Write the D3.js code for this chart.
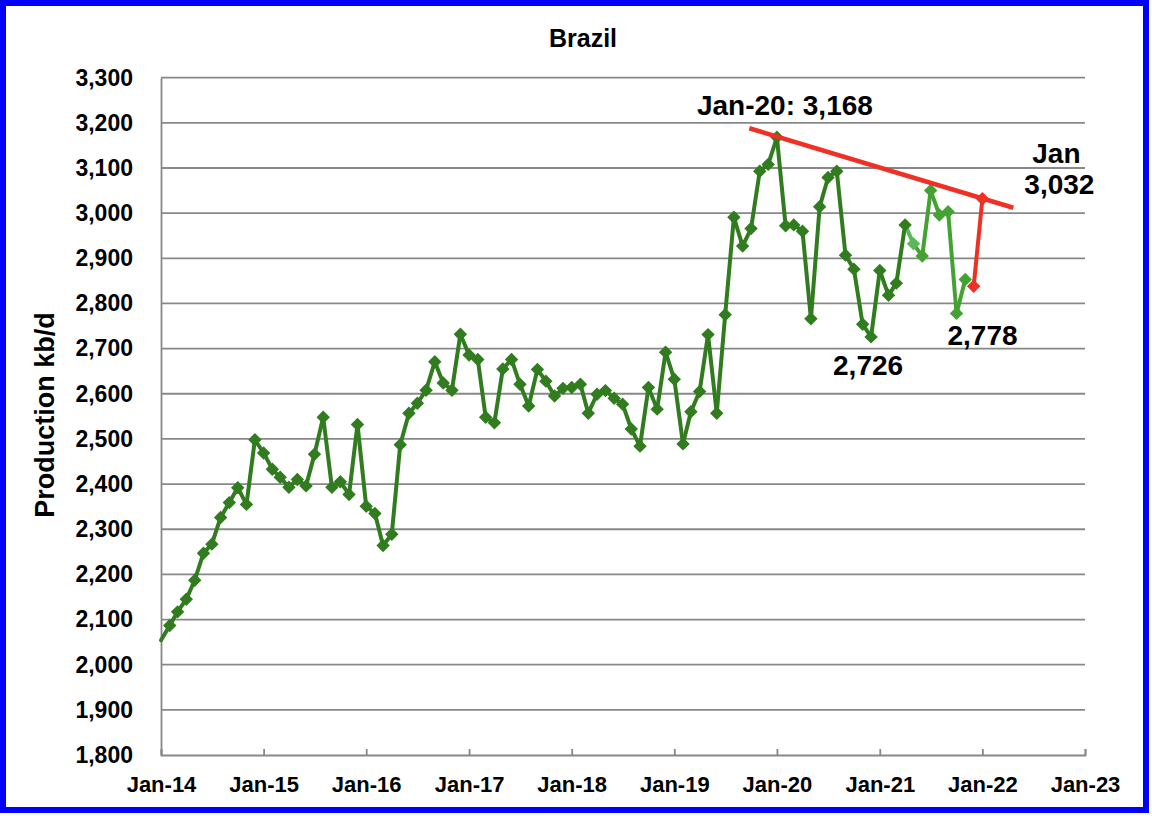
<!DOCTYPE html>
<html><head><meta charset="utf-8">
<script src="https://cdn.jsdelivr.net/npm/d3@7"></script>
<style>body{margin:0;background:#fff}svg{display:block}text{font-family:"Liberation Sans",Arial,sans-serif;font-weight:bold;fill:#000}</style>
</head><body>
<script>
// Monthly production, kb/d, Jan-2014 .. Nov-2021
const startMonth = "2014-01";
const production = [
  2054,2087,2117,2145,2187,2247,2267,2326,2359,2392,2355,2498,
  2469,2433,2415,2393,2410,2396,2466,2548,2393,2405,2377,2532,
  2351,2335,2264,2289,2487,2557,2579,2608,2671,2624,2608,2732,
  2686,2676,2548,2536,2655,2676,2621,2573,2654,2628,2595,2612,
  2614,2621,2557,2599,2607,2590,2577,2522,2484,2614,2566,2692,
  2632,2489,2560,2605,2731,2557,2775,2991,2927,2966,3093,3108,
  3168,2972,2974,2960,2766,3014,3079,3093,2907,2876,2754,2726,
  2873,2818,2845,2974,2932,2905,3050,2996,3003,2778,2853
];
// colour group of each point: 0 = older, 1 = May-21, 2 = latest
const lightFrom = "2021-05", latestFrom = "2021-06";
// red (preliminary) points
const redMonths = ["2021-12","2022-01"];
const redValues = [2838, 3032];
// trend line ends
const trendDates = ["2019-09-25","2022-04-21"];
const trendValues = [3188, 3012];
const yTicks = d3.range(1800, 3301, 100);
const xTickYears = d3.range(2014, 2024);
const annotations = [
  {date:"2020-01", value:3168, text:"Jan-20: 3,168", dx:8, dy:-30},
  {date:"2020-12", value:2726, text:"2,726", dx:-3, dy:31},
  {date:"2021-10", value:2778, text:"2,778", dx:26, dy:24},
];

const W=1152,H=816;
const parse=d3.utcParse("%Y-%m"), parseD=d3.utcParse("%Y-%m-%d");
const t0=parse(startMonth);
const data=production.map((v,i)=>({date:d3.utcMonth.offset(t0,i),value:v}));
const lf=parse(lightFrom), lt=parse(latestFrom);
data.forEach(d=>{d.g = d.date>=lt?2:(d.date>=lf?1:0);});
const colors=["#317c1f","#5bb85a","#44a232"];
const redData=redMonths.map((m,i)=>({date:parse(m),value:redValues[i]}));

const svg=d3.select("body").append("svg").attr("width",W).attr("height",H);
svg.append("rect").attr("width",W).attr("height",H).attr("fill","#fff");
svg.append("rect").attr("x",3).attr("y",3).attr("width",1143).attr("height",807)
  .attr("fill","none").attr("stroke","#0000ff").attr("stroke-width",6);

const x=d3.scaleUtc().domain([new Date(Date.UTC(2014,0,1)),new Date(Date.UTC(2023,0,1))]).range([161,1085]);
const y=d3.scaleLinear().domain([1800,3300]).range([755,77.7]);
const grey="#888888";

// gridlines
svg.append("g").selectAll("line").data(yTicks.filter(v=>v>1800)).join("line")
  .attr("x1",161).attr("x2",1085).attr("y1",d=>y(d)).attr("y2",d=>y(d))
  .attr("stroke",grey).attr("stroke-width",1.8);
// axes
const xa=svg.append("g").attr("transform","translate(0,755)")
  .call(d3.axisBottom(x).tickValues(xTickYears.map(yr=>new Date(Date.UTC(yr,0,1))))
    .tickSize(-6).tickPadding(21).tickFormat(d3.utcFormat("Jan-%y")));
xa.select(".domain").attr("stroke",grey).attr("stroke-width",1.8);
xa.selectAll(".tick line").attr("stroke",grey).attr("stroke-width",1.8);
xa.selectAll("text").attr("font-size",22).attr("font-family","Liberation Sans, Arial").attr("font-weight","bold").attr("fill","#000");
const ya=svg.append("g").attr("transform","translate(161,0)")
  .call(d3.axisLeft(y).tickValues(yTicks).tickSize(0).tickPadding(28).tickFormat(d3.format(",")));
ya.select(".domain").attr("stroke",grey).attr("stroke-width",1.8);
ya.selectAll("text").attr("font-size",23).attr("font-family","Liberation Sans, Arial").attr("font-weight","bold").attr("fill","#000");

// title and axis title
svg.append("text").attr("x",583).attr("y",47).attr("text-anchor","middle").attr("font-size",25).text("Brazil");
svg.append("text").attr("transform","translate(54,415) rotate(-90)").attr("text-anchor","middle").attr("font-size",27).text("Production kb/d");

// series line segments
const g=svg.append("g");
for(let i=1;i<data.length;i++){
  g.append("line").attr("x1",x(data[i-1].date)).attr("y1",y(data[i-1].value))
    .attr("x2",x(data[i].date)).attr("y2",y(data[i].value))
    .attr("stroke",colors[data[i].g]).attr("stroke-width",4).attr("stroke-linecap","round");
}
const diamond=d3.symbol().type(d3.symbolDiamond2).size(115);
g.selectAll("path.m").data(data.slice(1)).join("path").attr("class","m")
  .attr("d",diamond).attr("transform",d=>`translate(${x(d.date)},${y(d.value)})`)
  .attr("fill",d=>colors[d.g]);

// trend line
const td=trendDates.map((d,i)=>({date:parseD(d),value:trendValues[i]}));
svg.append("path").datum(td).attr("d",d3.line().x(d=>x(d.date)).y(d=>y(d.value)))
  .attr("stroke","#ee3124").attr("stroke-width",4.5).attr("fill","none");
// red points
svg.append("path").datum(redData).attr("d",d3.line().x(d=>x(d.date)).y(d=>y(d.value)))
  .attr("stroke","#ee3124").attr("stroke-width",4).attr("fill","none");
svg.selectAll("path.r").data(redData).join("path").attr("class","r")
  .attr("d",diamond).attr("transform",d=>`translate(${x(d.date)},${y(d.value)})`)
  .attr("fill","#ee3124");

// annotations
annotations.forEach(a=>{
  svg.append("text").attr("x",x(parse(a.date))+a.dx).attr("y",y(a.value)+a.dy)
    .attr("text-anchor","middle").attr("dominant-baseline","middle").attr("font-size",28).text(a.text);
});
const last=redData[redData.length-1];
svg.append("text").attr("x",x(last.date)+74).attr("y",y(last.value)-43).attr("text-anchor","middle").attr("dominant-baseline","middle").attr("font-size",28).text("Jan");
svg.append("text").attr("x",x(last.date)+77).attr("y",y(last.value)-12).attr("text-anchor","middle").attr("dominant-baseline","middle").attr("font-size",28).text(d3.format(",")(last.value));
</script>
</body></html>
